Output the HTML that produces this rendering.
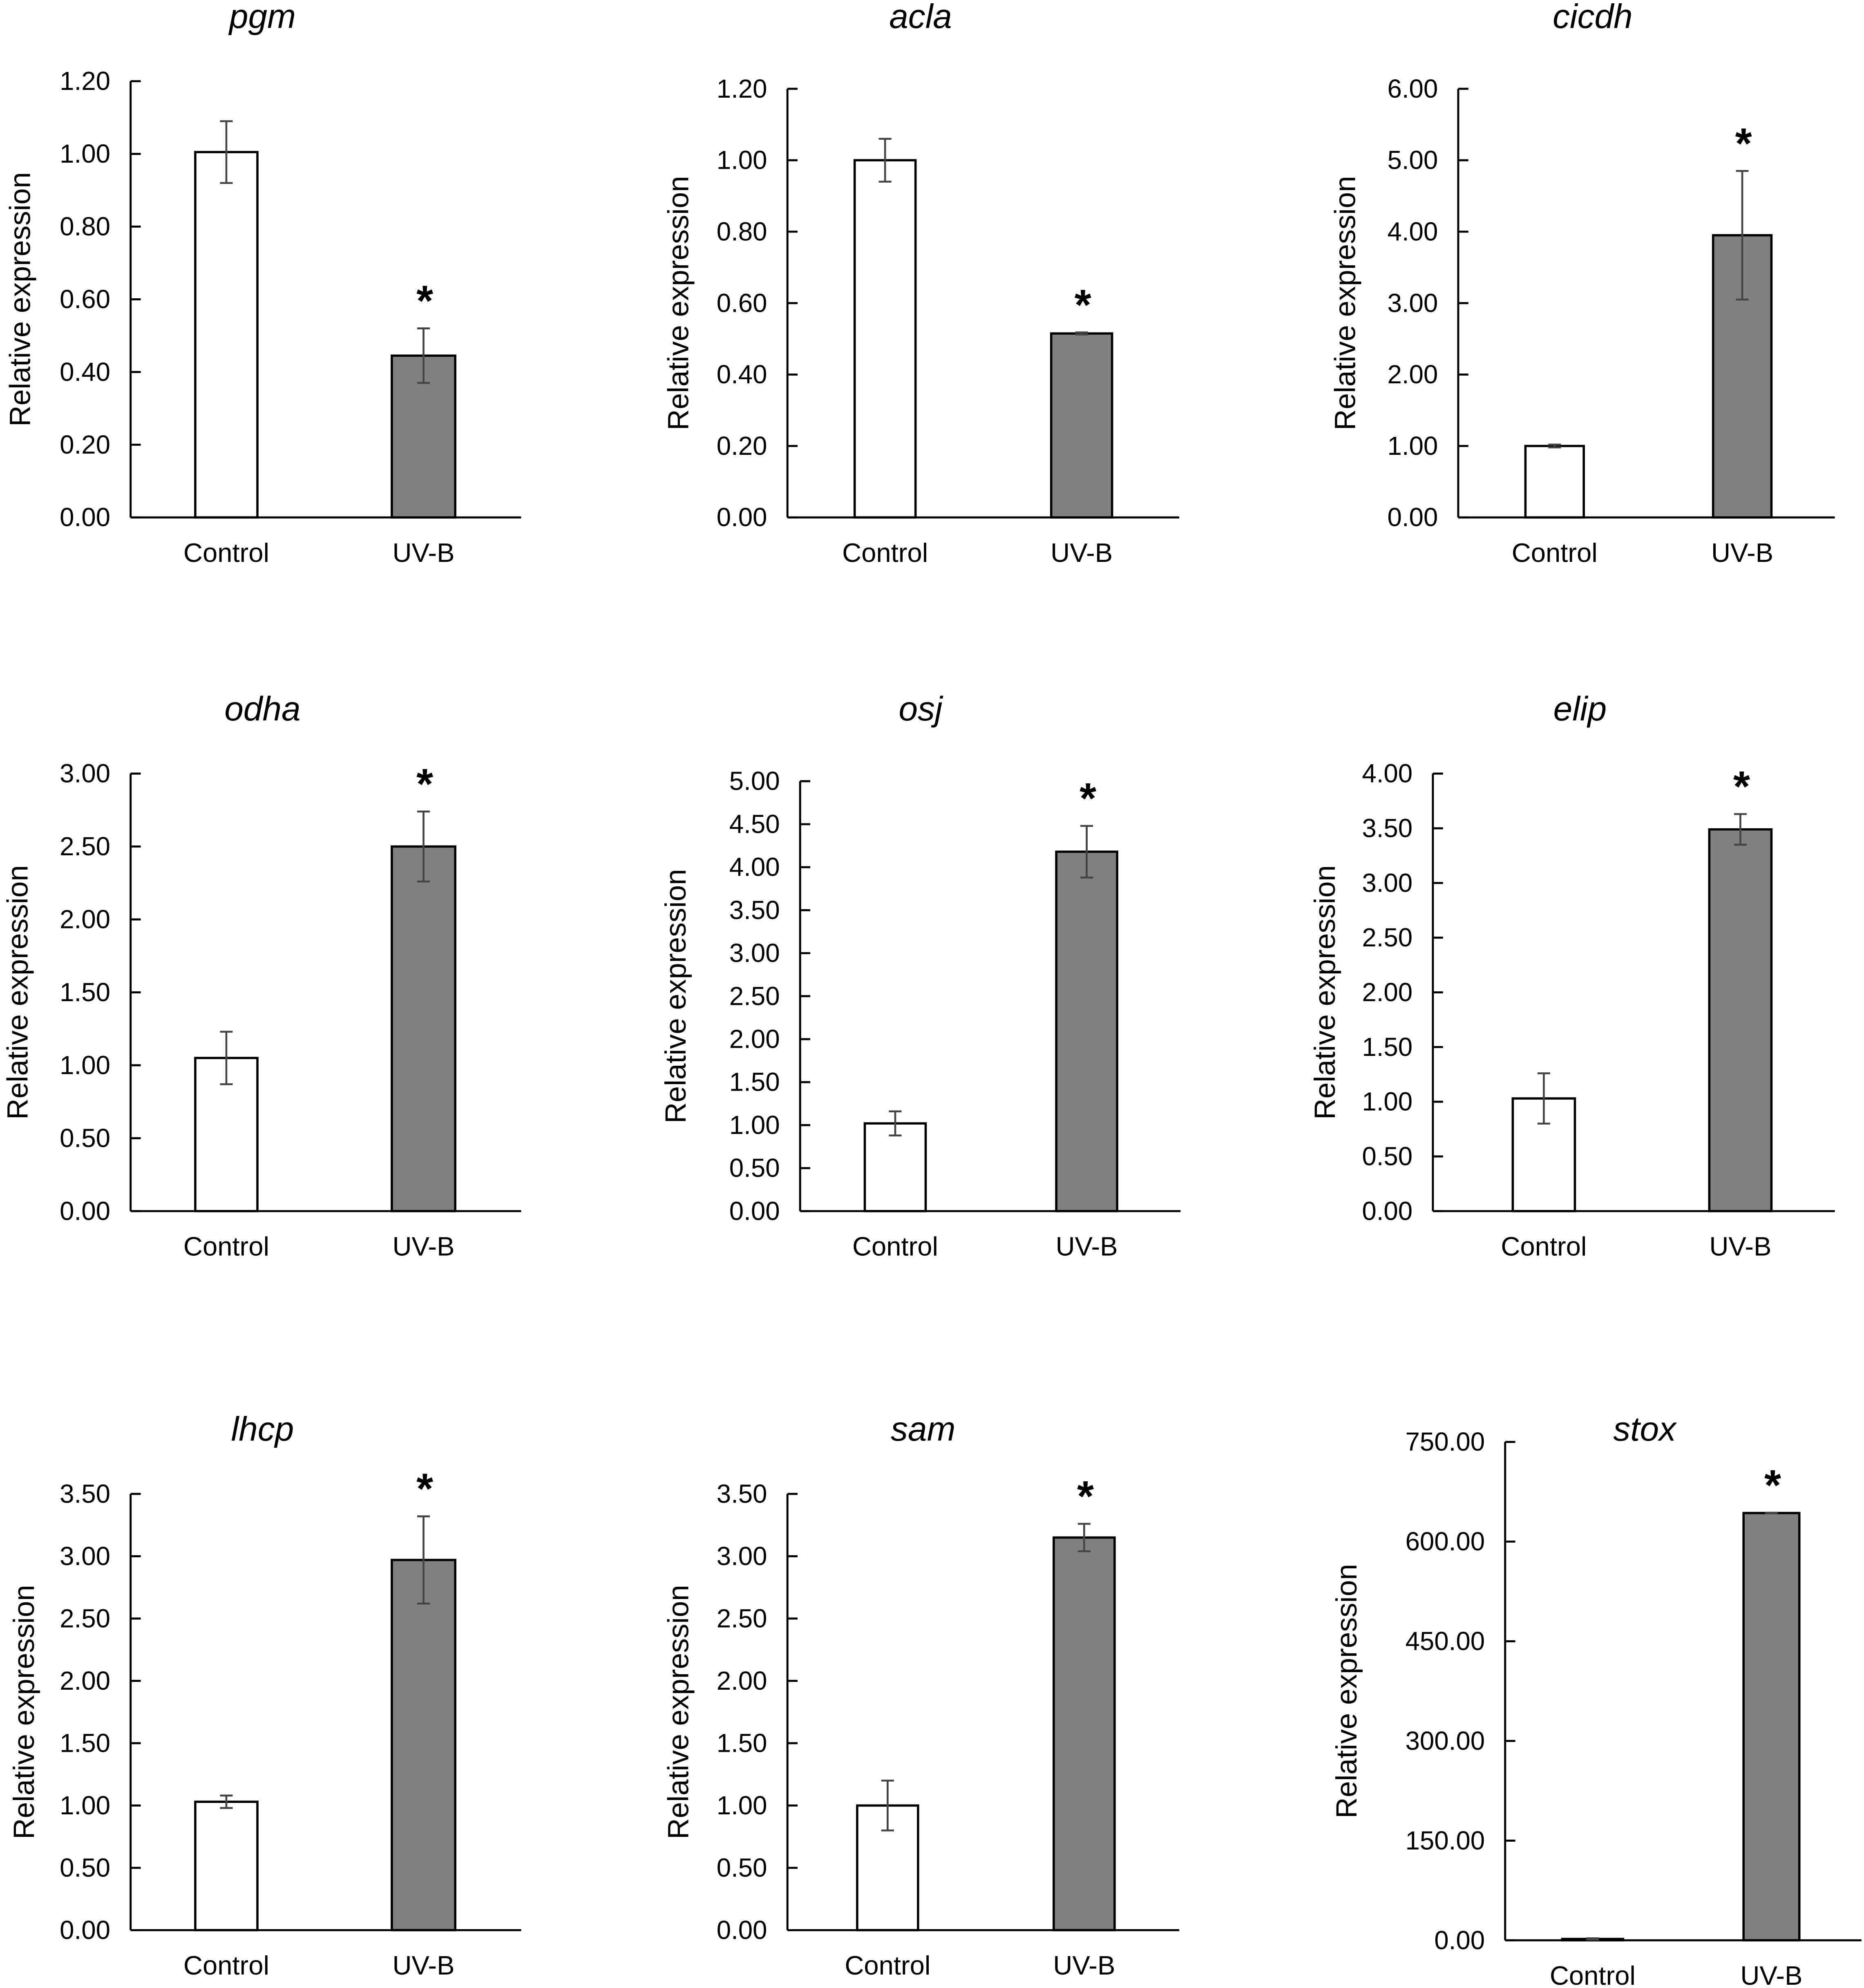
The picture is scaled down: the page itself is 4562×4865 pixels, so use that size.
<!DOCTYPE html>
<html><head><meta charset="utf-8">
<style>
html,body{margin:0;padding:0;background:#fff;}
svg{display:block;}
text{font-family:"Liberation Sans",Arial,sans-serif;fill:#000;}
</style></head>
<body>
<svg id="fig" xmlns="http://www.w3.org/2000/svg" width="4562" height="4865" viewBox="0 0 1470 1567.6"></svg>
<script>
// Data per panel
const genes = ["pgm","acla","cicdh","odha","osj","elip","lhcp","sam","stox"];
const categories = ["Control","UV-B"];
const controlValues = [1.005, 1.00, 1.00, 1.05, 1.02, 1.03, 1.03, 1.00, 2.0];
const controlErrors = [0.085, 0.06, 0.02, 0.18, 0.14, 0.23, 0.05, 0.20, 1.0];
const uvbValues = [0.445, 0.515, 3.95, 2.50, 4.18, 3.49, 2.97, 3.15, 643];
const uvbErrors = [0.075, 0.003, 0.90, 0.24, 0.30, 0.14, 0.35, 0.11, 0.5];
const yMax = [1.2, 1.2, 6, 3, 5, 4, 3.5, 3.5, 750];
const yStep = [0.2, 0.2, 1, 0.5, 0.5, 0.5, 0.5, 0.5, 150];

// layout (display units)
const layout = [
  {ax:103, ax2:411, top:64, bot:408, b:[154,203,309,359], ty:22, ylx:16},
  {ax:621, ax2:930, top:70, bot:408, b:[674,722,829,877], ty:22, ylx:535},
  {ax:1150, ax2:1447, top:70, bot:408, b:[1203,1249,1351,1397], ty:22, ylx:1061},
  {ax:103, ax2:411, top:610, bot:955, b:[154,203,309,359], ty:568, ylx:14},
  {ax:631, ax2:931, top:616, bot:955, b:[682,730,833,881], ty:568, ylx:533},
  {ax:1130, ax2:1447, top:610, bot:955, b:[1193,1242,1348,1397], ty:568, ylx:1045},
  {ax:103, ax2:411, top:1178, bot:1522, b:[154,203,309,359], ty:1136, ylx:19},
  {ax:621, ax2:930, top:1178, bot:1522, b:[676,724,831,879], ty:1136, ylx:535},
  {ax:1187, ax2:1468, top:1137, bot:1530, b:[1232,1280,1375,1419], ty:1136, ylx:1062}
];
const titleX = [207,726,1256,207,726,1246,207,728,1297];

const NS = "http://www.w3.org/2000/svg";
const svg = document.getElementById("fig");
function mk(tag, attrs, parent){
  const e = document.createElementNS(NS, tag);
  for (const k in attrs) e.setAttribute(k, attrs[k]);
  (parent||svg).appendChild(e);
  return e;
}

genes.forEach((g, i) => {
  const L = layout[i];
  const grp = mk("g", {});
  
  
  const y = v => L.bot - (v / yMax[i]) * (L.bot - L.top);

  const t = mk("text", {x: titleX[i], y: L.ty, "font-size": 27, "font-style": "italic", "text-anchor": "middle"}, grp);
  t.textContent = g;
  
  

  const yl = mk("text", {x: L.ylx, y: (L.top + L.bot) / 2, "font-size": 23, "text-anchor": "middle", "dominant-baseline": "central", transform: `rotate(-90 ${L.ylx} ${(L.top + L.bot) / 2})`}, grp);
  yl.textContent = "Relative expression";
  
  

  const ya = mk("line", {x1: L.ax, y1: L.top, x2: L.ax, y2: L.bot, stroke: "#000", "stroke-width": 1.6}, grp);
  
  
  const xa = mk("line", {x1: L.ax, y1: L.bot, x2: L.ax2, y2: L.bot, stroke: "#000", "stroke-width": 1.6}, grp);
  
  

  const n = Math.round(yMax[i] / yStep[i]);
  for (let k = 0; k <= n; k++) {
    const v = k * yStep[i];
    const yy = y(v);
    const tk = mk("line", {x1: L.ax, y1: yy, x2: L.ax + 8, y2: yy, stroke: "#000", "stroke-width": 1.6}, grp);
    
    
    const tl = mk("text", {x: L.ax - 16, y: yy, "font-size": 20.5, "text-anchor": "end", "dominant-baseline": "central"}, grp);
    tl.textContent = v.toFixed(2);
    
    
  }

  const vals = [controlValues[i], uvbValues[i]];
  const errs = [controlErrors[i], uvbErrors[i]];
  [0, 1].forEach(j => {
    const x0 = L.b[j * 2], x1 = L.b[j * 2 + 1], cx = (x0 + x1) / 2;
    const r = mk("rect", {x: x0, y: y(vals[j]), width: x1 - x0, height: L.bot - y(vals[j]), fill: j ? "#808080" : "#fff", stroke: "#000", "stroke-width": 1.8}, grp);
    
    
    const hi = y(vals[j] + errs[j]), lo = y(vals[j] - errs[j]);
    const eb = mk("path", {d: `M${cx},${hi}V${lo}M${cx-5},${hi}H${cx+5}M${cx-5},${lo}H${cx+5}`, stroke: "#444", "stroke-width": 1.5, fill: "none"}, grp);
    
    
    const cl = mk("text", {x: cx, y: L.bot + 35, "font-size": 21, "text-anchor": "middle"}, grp);
    cl.textContent = categories[j];
    
    
    if (j === 1) {
      const st = mk("text", {x: cx + 1, y: hi - 10, "font-size": 34, "font-weight": "bold", "text-anchor": "middle"}, grp);
      st.textContent = "*";
      
      
    }
  });
});
</script>
</body></html>
